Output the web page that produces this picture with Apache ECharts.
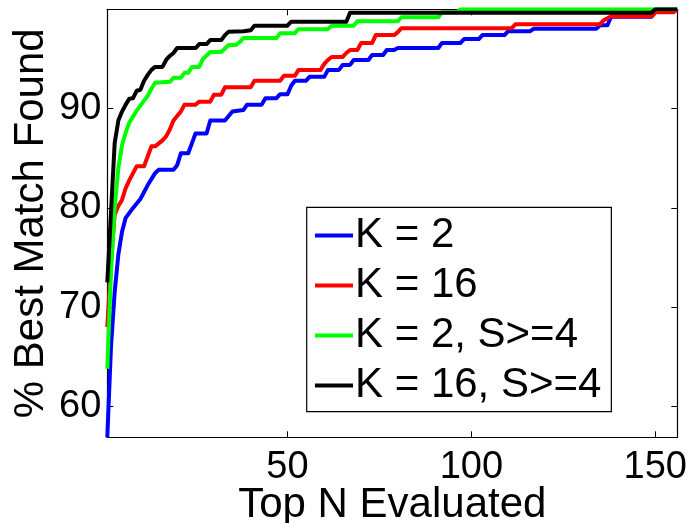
<!DOCTYPE html>
<html>
<head>
<meta charset="utf-8">
<script src="https://cdn.jsdelivr.net/npm/echarts@6/dist/echarts.min.js"></script>
<style>
html,body{margin:0;padding:0;background:#fff;}
#chart{width:692px;height:523px;}
</style>
</head>
<body>
<div id="chart"></div>
<script>
// ---- data ----
const xMin = 1, xMax = 156;
const yMin = 56.9, yMax = 100;
const xTicks = [50, 100, 150];
const yTicks = [60, 70, 80, 90];
const seriesNames = ['K = 2', 'K = 16', 'K = 2, S>=4', 'K = 16, S>=4'];

// K = 2
const k2N = [1,2,3,4,5,6,8,10,12,14,15,19,20,21,23,24,25,28,29,33,35,38,39,43,44,47,48,50,51,52,55,56,60,61,64,65,67,68,72,73,76,77,79,80,91,92,97,98,102,103,109,110,116,117,134,135,137,138,149,150,155,156];
const k2V = [56.9,66,71.5,75.3,77.6,79,80,80.9,82.3,83.5,83.85,83.85,84.3,85.5,85.5,86.5,87.5,87.5,88.8,88.8,89.7,89.85,90.4,90.4,91.05,91.05,91.45,91.45,92.3,92.8,92.8,93.2,93.2,93.9,93.9,94.4,94.4,94.9,94.9,95.4,95.4,95.9,95.9,96.1,96.1,96.6,96.6,97.0,97.0,97.4,97.4,97.8,97.8,98.05,98.05,98.4,98.4,99.25,99.25,99.76,99.76,100];

// K = 16
const k16N = [1,2,3,4,5,6,7,8,9,11,12,13,14,16,17,18,19,21,22,25,26,29,30,32,33,40,41,48,49,52,53,59,60,61,62,65,66,67,69,70,73,74,79,80,81,111,112,135,136,138,149,150,155,156];
const k16V = [68,74.5,79.3,80.2,80.8,82,82.8,83.5,84.2,84.2,85.2,86.2,86.2,86.8,87.2,87.9,88.8,89.7,90.4,90.4,90.7,90.7,91.4,91.4,92.15,92.15,92.8,92.8,93.3,93.3,93.9,93.9,94.5,94.9,95.2,95.2,95.6,95.9,95.9,96.6,96.6,97.4,97.4,97.7,98.1,98.1,98.5,98.5,98.9,99.3,99.3,99.7,99.7,100];

// K = 2, S>=4
const k2sN = [1,2,3,4,5,6,7,8,9,10,11,12,13,14,18,19,21,22,23,24,26,27,29,32,34,36,37,38,47,48,52,53,61,62,68,69,80,81,91,92,96,97,156];
const k2sV = [63.8,73.5,80,84,86.3,87.6,88.6,89.2,89.8,90.3,90.8,91.3,92,92.6,92.7,93.1,93.1,93.6,93.6,94.2,94.2,95,95.7,95.7,96.4,96.4,96.7,97.1,97.1,97.6,97.6,98,98,98.35,98.35,98.8,98.8,99.2,99.2,99.7,99.7,100,100];

// K = 16, S>=4
const k16sN = [1,2,3,4,5,6,7,8,9,10,11,12,13,14,16,17,18,19,20,25,26,28,29,32,33,34,38,40,41,50,51,66,67,149,150,156];
const k16sV = [72.5,79.5,86.5,88.8,89.7,90.4,91,91.05,91.8,91.9,92.8,93.4,93.9,94.2,94.2,94.9,95.3,95.6,96.1,96.1,96.5,96.5,96.9,96.9,97.4,97.75,97.8,97.9,98.35,98.35,98.75,98.75,99.65,99.65,100,100];

const colors = ['#0000ff', '#ff0000', '#00ff00', '#000000'];
const allN = [k2N, k16N, k2sN, k16sN];
const allV = [k2V, k16V, k2sV, k16sV];

// ---- chart ----
const FONT = '"Liberation Sans", Arial, Helvetica, sans-serif';
const chart = echarts.init(document.getElementById('chart'), null, {renderer: 'canvas'});

function xAxisCfg(pos, showLabels) {
  return {
    type: 'value', position: pos, min: xMin, max: xMax,
    axisLine: {show: true, onZero: false, lineStyle: {color: '#000', width: 1.2}},
    axisTick: {show: true, inside: true, length: 6, customValues: xTicks, lineStyle: {color: '#000', width: 1}},
    axisLabel: {show: showLabels, customValues: xTicks, margin: 11, color: '#000', fontSize: 38, fontFamily: FONT},
    splitLine: {show: false},
    name: showLabels ? 'Top N Evaluated' : '',
    nameLocation: 'middle', nameGap: 47, nameMoveOverlap: false,
    nameTextStyle: {color: '#000', fontSize: 42, fontFamily: FONT}
  };
}
function yAxisCfg(pos, showLabels) {
  return {
    type: 'value', position: pos, min: yMin, max: yMax,
    axisLine: {show: true, onZero: false, lineStyle: {color: '#000', width: 1.2}},
    axisTick: {show: true, inside: true, length: 6, customValues: yTicks, lineStyle: {color: '#000', width: 1}},
    axisLabel: {show: showLabels, customValues: yTicks, margin: 6, color: '#000', fontSize: 38, fontFamily: FONT},
    splitLine: {show: false},
    name: showLabels ? '% Best Match Found' : '',
    nameLocation: 'middle', nameGap: 55, nameRotate: 90, nameMoveOverlap: false,
    nameTextStyle: {color: '#000', fontSize: 42, fontFamily: FONT}
  };
}

const series = seriesNames.map((name, i) => ({
  name: name,
  type: 'line',
  xAxisIndex: 0, yAxisIndex: 0,
  data: allN[i].map((n, j) => [n, allV[i][j]]),
  showSymbol: false, symbol: 'none',
  clip: true,
  lineStyle: {color: colors[i], width: 4, join: 'round'},
  itemStyle: {color: colors[i]},
  emphasis: {disabled: true},
  z: 2 + i
}));

chart.setOption({
  animation: false,
  backgroundColor: '#ffffff',
  grid: {left: 107.3, top: 9.3, right: 14.7, bottom: 85.7, containLabel: false, outerBoundsMode: 'none'},
  xAxis: [xAxisCfg('bottom', true), xAxisCfg('top', false)],
  yAxis: [yAxisCfg('left', true), yAxisCfg('right', false)],
  legend: {
    orient: 'vertical',
    left: 306.7, top: 207.3,
    padding: [5.7, 10, 3.7, 8.3],
    itemGap: 5,
    itemWidth: 38, itemHeight: 4,
    icon: 'rect',
    backgroundColor: '#ffffff',
    borderColor: '#000', borderWidth: 1.2, borderRadius: 0,
    selectedMode: false,
    textStyle: {color: '#000', fontSize: 42, fontFamily: FONT, lineHeight: 45, padding: [0, 0, 0, -3]},
    data: seriesNames
  },
  series: series
});
</script>
</body>
</html>
